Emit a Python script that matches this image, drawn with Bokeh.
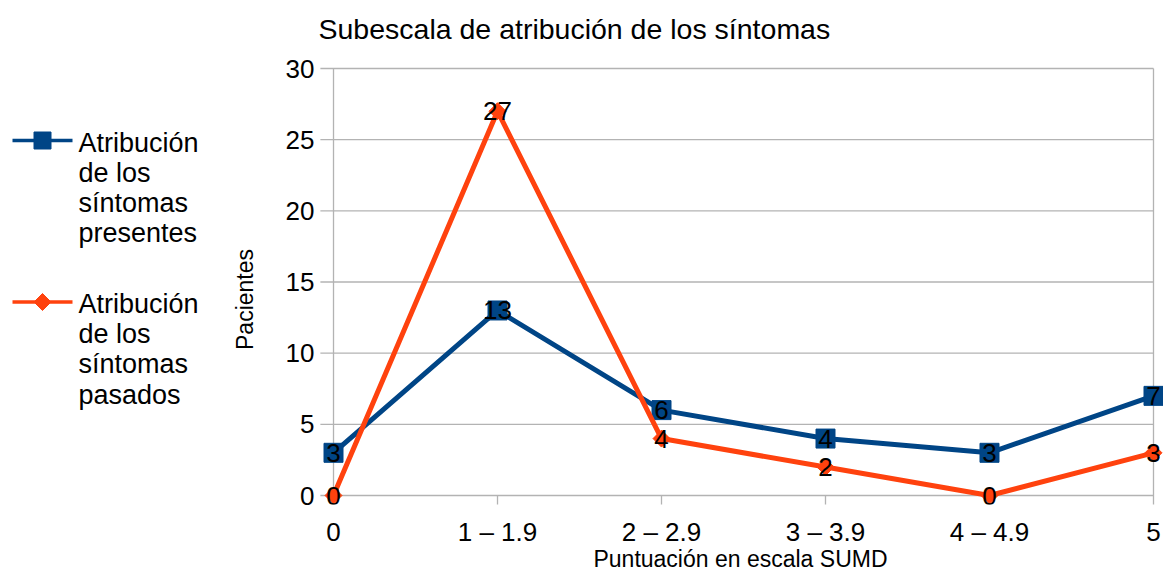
import math
from bokeh.plotting import figure
from bokeh.models import Range1d, FixedTicker, ColumnDataSource
from bokeh.layouts import row
from bokeh.core.properties import value
from bokeh.embed import file_html
from bokeh.resources import INLINE

# ---- data ----
categories = ["0", "1 – 1.9", "2 – 2.9", "3 – 3.9", "4 – 4.9", "5"]
presentes = [3, 13, 6, 4, 3, 7]
pasados = [0, 27, 4, 2, 0, 3]
y_ticks = [0, 5, 10, 15, 20, 25, 30]
series_names = ["Atribución de los síntomas presentes", "Atribución de los síntomas pasados"]
title_text = "Subescala de atribución de los síntomas"
x_title = "Puntuación en escala SUMD"
y_title = "Pacientes"

BLUE = "#004586"
ORANGE = "#ff420e"
GRID = "#b3b3b3"
FONT = "Liberation Sans"

xs = list(range(len(categories)))

H = 574
TOP, BOTTOM = 50, 70          # borders of the main frame
LEG_W = 260

# ---- main chart ----
p = figure(width=1163 - LEG_W, height=H, output_backend="svg", toolbar_location=None,
           x_range=Range1d(-0.0976, 5.061), y_range=Range1d(-0.632, 31.265),
           min_border_left=57, min_border_right=0, min_border_top=TOP, min_border_bottom=BOTTOM)
p.outline_line_color = None
p.grid.visible = False

# gridlines and tick marks (from tick arrays)
x0, x1 = xs[0], xs[-1]
p.segment(x0=[x0 - 0.08] * len(y_ticks), x1=[x1] * len(y_ticks), y0=y_ticks, y1=y_ticks,
          line_color=GRID, line_width=1.3)
p.segment(x0=[x0, x1], x1=[x0, x1], y0=[-0.7, -0.7], y1=[y_ticks[-1]] * 2,
          line_color=GRID, line_width=1.3)
p.segment(x0=xs[1:-1], x1=xs[1:-1], y0=[-0.7] * (len(xs) - 2), y1=[0] * (len(xs) - 2),
          line_color=GRID, line_width=1.3)

src = ColumnDataSource(dict(x=xs, pres=presentes, pas=pasados,
                            pres_t=[str(v) for v in presentes], pas_t=[str(v) for v in pasados]))

p.line("x", "pres", source=src, line_color=BLUE, line_width=5)
p.scatter("x", "pres", source=src, marker="square", size=19, fill_color=BLUE, line_color=BLUE)
p.line("x", "pas", source=src, line_color=ORANGE, line_width=5)
p.scatter("x", "pas", source=src, marker="square", angle=math.pi / 4, size=12,
          fill_color=ORANGE, line_color=ORANGE)

for col in ["pres_t", "pas_t"]:
    p.text("x", col.replace("_t", ""), text=col, source=src, text_font=value(FONT),
           text_font_size="26px", text_color="black", text_align="center", text_baseline="middle")

# axes
p.xaxis.ticker = FixedTicker(ticks=xs)
p.xaxis.major_label_overrides = {i: c for i, c in enumerate(categories)}
p.yaxis.ticker = FixedTicker(ticks=y_ticks)
for ax in [p.xaxis[0], p.yaxis[0]]:
    ax.axis_line_color = None
    ax.major_tick_line_color = None
    ax.minor_tick_line_color = None
    ax.major_tick_in = 0
    ax.major_tick_out = 0
    ax.major_label_text_font = FONT
    ax.major_label_text_font_size = "26px"
    ax.major_label_text_color = "black"
p.xaxis.major_label_standoff = 12
p.yaxis.major_label_standoff = 3
p.xaxis.axis_label = x_title
p.xaxis.axis_label_text_font = FONT
p.xaxis.axis_label_text_font_size = "23px"
p.xaxis.axis_label_text_font_style = "normal"
p.xaxis.axis_label_text_color = "black"
p.xaxis.axis_label_standoff = -4

p.title.text = title_text
p.title.text_font = FONT
p.title.text_font_size = "28.5px"
p.title.text_font_style = "normal"
p.title.text_color = "black"
p.title.align = "left"
p.title.offset = 1
p.title.standoff = 12

# ---- legend panel (also carries the vertical axis title) ----
lg = figure(width=LEG_W, height=H, output_backend="svg", toolbar_location=None,
            x_range=Range1d(0, LEG_W), y_range=Range1d(H - BOTTOM, TOP),
            min_border_left=0, min_border_right=0, min_border_top=TOP, min_border_bottom=BOTTOM,
            x_axis_type=None, y_axis_type=None)
lg.outline_line_color = None
lg.grid.visible = False

lg.text([244], [299], text=[y_title], angle=math.pi / 2, text_font=value(FONT),
        text_font_size="23px", text_color="black", text_align="center", text_baseline="middle")

legend_y = [140, 301.5]
colors = [BLUE, ORANGE]
for i, name in enumerate(series_names):
    gy = legend_y[i]
    lg.line([12, 72], [gy, gy], line_color=colors[i], line_width=3.5)
    if i == 0:
        lg.scatter([42], [gy], marker="square", size=17, fill_color=BLUE, line_color=BLUE)
    else:
        lg.scatter([42], [gy], marker="square", angle=math.pi / 4, size=12,
                   fill_color=ORANGE, line_color=ORANGE)
    words = name.split(" ")
    lines = [words[0], " ".join(words[1:3]), words[3], words[4]]
    base = gy + 2
    lg.text([78] * 4, [base + k * 30.2 for k in range(4)], text=lines,
            text_font=value(FONT), text_font_size="27px", text_color="black",
            text_align="left", text_baseline="alphabetic")

layout = row(lg, p)
open("out.html", "w").write(file_html(layout, INLINE))
